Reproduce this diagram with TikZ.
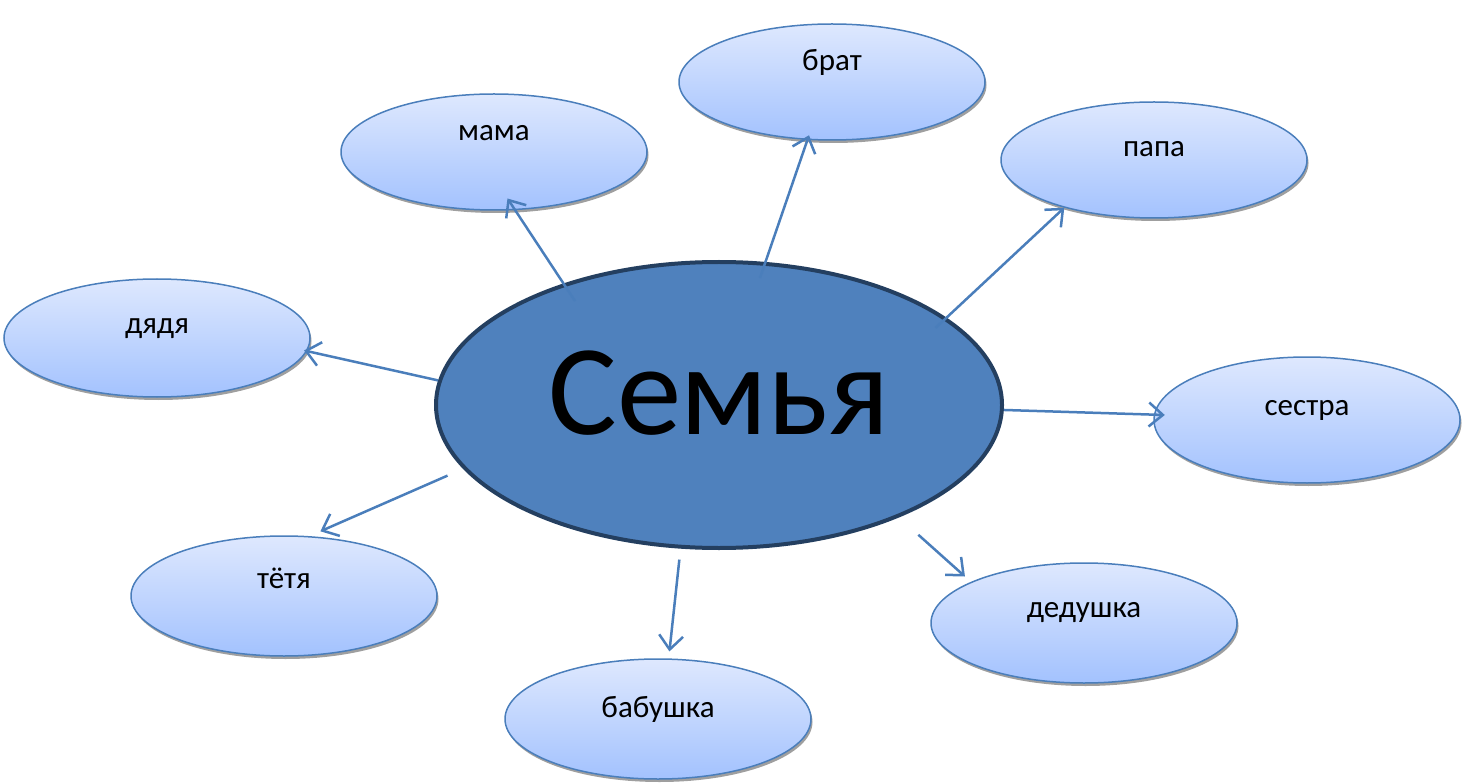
\documentclass[tikz,border=0pt]{standalone}
\usepackage{fontspec}
\setmainfont{Carlito}
\usepackage{tikz}
\usetikzlibrary{shapes.geometric,shadows,arrows.meta}

\definecolor{famfill}{HTML}{4F81BD}
\definecolor{famline}{HTML}{243F60}
\definecolor{leafline}{HTML}{4A7EBB}
\definecolor{leaftop}{HTML}{DEE8FE}
\definecolor{leafbot}{HTML}{A3C2FE}

\begin{document}
\begin{tikzpicture}[x=1pt,y=-1pt,
	family/.style={ellipse,fill=famfill,draw=famline,line width=4pt,
		minimum width=566pt,minimum height=286pt,inner sep=0pt},
	member/.style={ellipse,draw=leafline,line width=1.5pt,
		top color=leaftop,bottom color=leafbot,
		minimum width=306pt,minimum height=116pt,inner sep=0pt,
		general shadow={fill=gray!75,shadow xshift=1.5pt,shadow yshift=-3pt}},
	word/.style={font=\fontsize{31}{31}\selectfont,text height=14.5pt,text depth=0pt,inner sep=0pt},
	bigword/.style={font=\fontsize{129}{129}\selectfont,inner sep=0pt},
	link/.style={draw=leafline,line width=2.5pt,-{Straight Barb[length=14pt,width=24pt]}}]
	\useasboundingbox (0,0) rectangle (1469,783);

	\node[family] (fam) at (719,405) {};
	\node[bigword] (famtext) at ([yshift=12pt]fam.center) {Семья};

	\node[member,label={[word,yshift=19pt]center:мама}] (mama) at (494,152) {};
	\node[member,label={[word,yshift=19pt]center:брат}] (brat) at (832,82) {};
	\node[member,label={[word,yshift=11pt]center:папа}] (papa) at (1154,160) {};
	\node[member,label={[word,yshift=12pt]center:дядя},minimum height=118pt] (dyadya) at (157,338) {};
	\node[member,label={[word,yshift=12pt]center:сестра},minimum height=126pt] (sestra) at (1307,420) {};
	\node[member,label={[word,yshift=15pt]center:тётя},minimum height=120pt] (tyotya) at (284,596) {};
	\node[member,label={[word,yshift=9pt]center:бабушка},minimum height=120pt] (babushka) at (658,719) {};
	\node[member,label={[word,yshift=13pt]center:дедушка},minimum height=120pt] (dedushka) at (1084,623) {};

	% arrows from the centre
	\draw[link,shorten <=-21pt,shorten >=-14pt] (fam.142) -- (mama.-70);
	\draw[link,shorten <=-17pt,shorten >=-5pt] (fam.72) -- (brat.247);
	\draw[link,shorten <=-15pt] (fam.21) -- (papa.208);
	\draw[link,shorten >=-3pt] (fam.175) -- (dyadya.-5);
	\draw[link,shorten >=-11pt] (fam.-1) -- (sestra.178);
	\draw[link,shorten <=17pt,shorten >=12pt] (fam.194) -- (tyotya.67);
	\draw[link,shorten <=11pt,shorten >=7pt] (fam.255) -- (babushka.80);
	\draw[link,shorten <=26pt,shorten >=8pt] (fam.-32) -- (dedushka.160);
\end{tikzpicture}
\end{document}
